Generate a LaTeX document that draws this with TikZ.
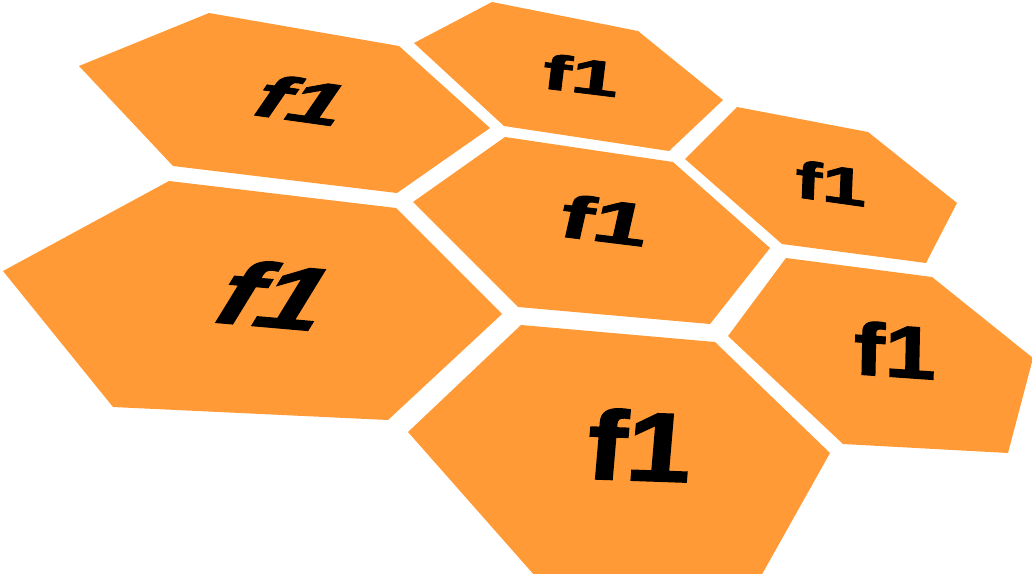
\documentclass[tikz,border=0pt]{standalone}
\usepackage{fontspec}
\setmainfont{Liberation Sans}
\newfontfamily\heavyfont[BoldFeatures={FakeBold=1.5}]{Liberation Sans}
\definecolor{hexor}{RGB}{255,154,54}
\newcommand\fsz[1]{\heavyfont\fontsize{#1}{#1}\selectfont\bfseries}
\tikzset{
  hexf/.style={fill=hexor, draw=none},
  lab/.style={inner sep=0pt, text=black}
}
\begin{document}
\begin{tikzpicture}[x=1pt,y=-1pt]
\useasboundingbox (0,0) rectangle (1032,573);
\clip (0,0) rectangle (1032,573);
% hexagons
\fill[hexf] (79,66) -- (209,13) -- (399,46) -- (490,128) -- (397,193) -- (173,166) -- cycle;
\fill[hexf] (3,271) -- (169,181) -- (396,208) -- (502,314) -- (388,420) -- (113,407) -- cycle;
\fill[hexf] (414,43) -- (492,2) -- (638,31) -- (723,100) -- (669,151) -- (504,126) -- cycle;
\fill[hexf] (413,202) -- (505,137) -- (673,162) -- (770,248) -- (710,324) -- (518,307) -- cycle;
\fill[hexf] (685,159) -- (737,107) -- (868,132) -- (957,203) -- (926,263) -- (782,244) -- cycle;
\fill[hexf] (728,336) -- (786,258) -- (932,277) -- (1033,358) -- (1008,453) -- (843,444) -- cycle;
\fill[hexf] (408,432) -- (521,325) -- (715,342) -- (830,453) -- (756,585) -- (543,585) -- cycle;
% labels
\node[lab, font=\fsz{60}, rotate=-8, xslant=0.5, xscale=1.65] (la) at (303,100) {f1};
\node[lab, font=\fsz{90}, rotate=-5, xslant=0.5, xscale=1.33] (lb) at (277,295) {f1};
\node[lab, font=\fsz{49}, rotate=-7, xscale=1.75] (lc) at (581,75) {f1};
\node[lab, font=\fsz{60}, rotate=-7, xslant=0.1, xscale=1.65] (ld) at (605,220) {f1};
\node[lab, font=\fsz{52}, rotate=-8, xslant=-0.1, xscale=1.55] (le) at (831,183) {f1};
\node[lab, font=\fsz{74}, rotate=-4, xslant=-0.05, xscale=1.25] (lf) at (895,350) {f1};
\node[lab, font=\fsz{98}, rotate=-2, xslant=0.05, xscale=1.2] (lg) at (640,445) {f1};
\end{tikzpicture}
\end{document}
